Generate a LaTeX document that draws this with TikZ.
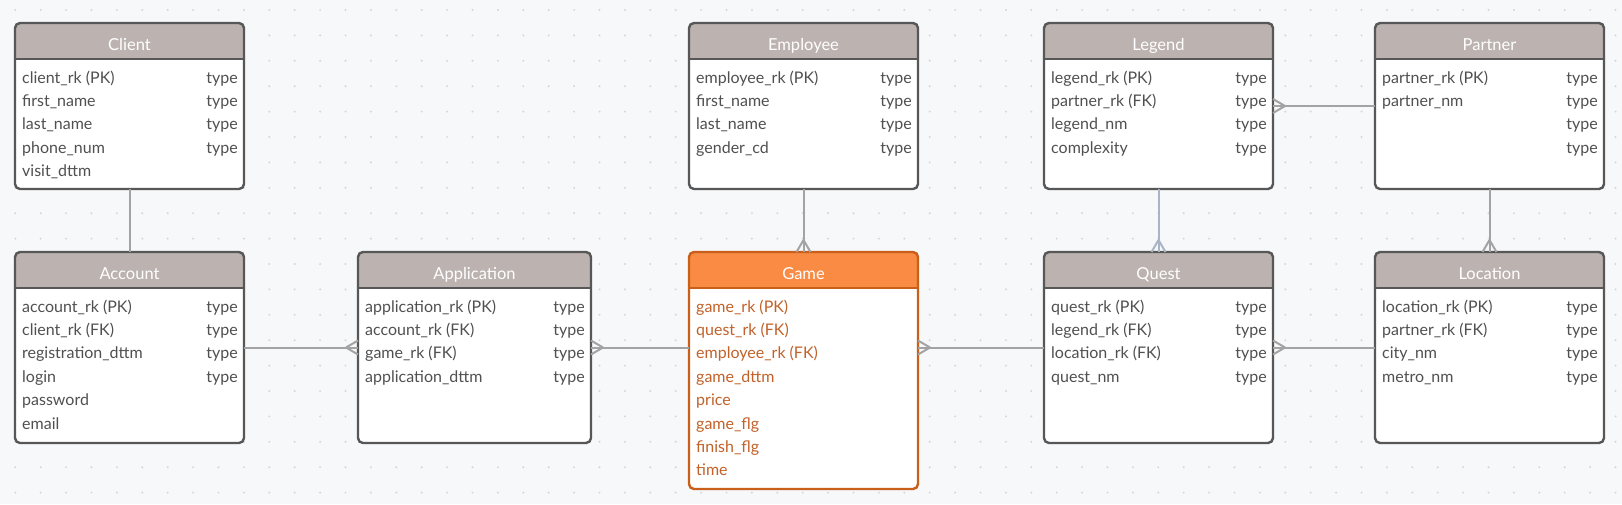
\documentclass[tikz,border=0pt]{standalone}
\usepackage{fontspec}
\setmainfont{Lato}
\usetikzlibrary{calc}
\definecolor{bgc}{HTML}{F7F8FA}
\definecolor{dotc}{HTML}{D3D6DB}
\definecolor{framec}{HTML}{575757}
\definecolor{hdrc}{HTML}{BCB2AF}
\definecolor{txtc}{HTML}{505050}
\definecolor{lnc}{HTML}{A3A3A3}
\definecolor{lnb}{HTML}{A9B4C6}
\definecolor{gframe}{HTML}{C8601C}
\definecolor{ghdr}{HTML}{F98B44}
\definecolor{gtxt}{HTML}{C2622A}
\tikzset{
  x=1pt, y=-1pt,
  ebody/.style={fill=white, inner sep=0pt, outer sep=0pt, anchor=north west},
  ttl/.style={text=white, font=\fontsize{16.5}{18}\selectfont, anchor=base, inner sep=0pt},
  fld/.style={font=\fontsize{16}{18}\selectfont, anchor=base west, inner sep=0pt},
  typ/.style={font=\fontsize{16}{18}\selectfont, anchor=base east, inner sep=0pt, text=txtc},
  conn/.style={draw=lnc, line width=2pt},
  connb/.style={draw=lnb, line width=2pt},
}
% #1 id, #2 x, #3 y, #4 w, #5 h, #6 title, #7 frame colour, #8 header colour
\newcommand\ent[8]{%
  \node[ebody, minimum width=#4pt, minimum height=#5pt] (#1) at (#2,#3) {};
  \begin{scope}
    \clip[rounded corners=5pt] (#1.north west) rectangle (#1.south east);
    \fill[#8] (#1.north west) rectangle ($(#1.north east)+(0,36)$);
  \end{scope}
  \draw[draw=#7, line width=2.4pt] ($(#1.north west)+(0,36)$) -- ($(#1.north east)+(0,36)$);
  \draw[draw=#7, line width=2.4pt, rounded corners=5pt] (#1.north west) rectangle (#1.south east);
  \node[ttl] (#1-t) at ($(#1.north)+(0,27)$) {#6};
}
% field name: #1 id, #2 row, #3 text, #4 colour
\newcommand\fn[4]{\node[fld, text=#4] (#1-f#2) at ($(#1.north west)+(7,{60+23.4*(#2-1)})$) {#3};}
% type: #1 id, #2 row
\newcommand\ft[2]{\node[typ] (#1-y#2) at ($(#1.north east)+(-6,{60+23.4*(#2-1)})$) {type};}
% horizontal crow's foot at #1, apex offset #2
\newcommand\crowh[3]{%
  \draw[#3] ($(#1)+(#2,0)$) -- ($(#1)+(0,7)$);
  \draw[#3] ($(#1)+(#2,0)$) -- ($(#1)+(0,-7)$);}
\newcommand\crowv[3]{%
  \draw[#3] ($(#1)+(0,#2)$) -- ($(#1)+(7,0)$);
  \draw[#3] ($(#1)+(0,#2)$) -- ($(#1)+(-7,0)$);}
\begin{document}
\begin{tikzpicture}
\useasboundingbox (0,0) rectangle (1622,504);
\fill[bgc] (0,0) rectangle (1622,504);
\foreach \i in {0,...,63} \foreach \j in {0,...,19}
  \fill[dotc] ({15.3+25.4*\i},{10+25.4*\j}) circle (1.1pt);

% entities
\ent{client}{15}{23}{229}{166}{Client}{framec}{hdrc}
\fn{client}{1}{client\_rk (PK)}{txtc}\ft{client}{1}
\fn{client}{2}{first\_name}{txtc}\ft{client}{2}
\fn{client}{3}{last\_name}{txtc}\ft{client}{3}
\fn{client}{4}{phone\_num}{txtc}\ft{client}{4}
\fn{client}{5}{visit\_dttm}{txtc}

\ent{employee}{689}{23}{229}{166}{Employee}{framec}{hdrc}
\fn{employee}{1}{employee\_rk (PK)}{txtc}\ft{employee}{1}
\fn{employee}{2}{first\_name}{txtc}\ft{employee}{2}
\fn{employee}{3}{last\_name}{txtc}\ft{employee}{3}
\fn{employee}{4}{gender\_cd}{txtc}\ft{employee}{4}

\ent{legend}{1044}{23}{229}{166}{Legend}{framec}{hdrc}
\fn{legend}{1}{legend\_rk (PK)}{txtc}\ft{legend}{1}
\fn{legend}{2}{partner\_rk (FK)}{txtc}\ft{legend}{2}
\fn{legend}{3}{legend\_nm}{txtc}\ft{legend}{3}
\fn{legend}{4}{complexity}{txtc}\ft{legend}{4}

\ent{partner}{1375}{23}{229}{166}{Partner}{framec}{hdrc}
\fn{partner}{1}{partner\_rk (PK)}{txtc}\ft{partner}{1}
\fn{partner}{2}{partner\_nm}{txtc}\ft{partner}{2}
\ft{partner}{3}
\ft{partner}{4}

\ent{account}{15}{252}{229}{191}{Account}{framec}{hdrc}
\fn{account}{1}{account\_rk (PK)}{txtc}\ft{account}{1}
\fn{account}{2}{client\_rk (FK)}{txtc}\ft{account}{2}
\fn{account}{3}{registration\_dttm}{txtc}\ft{account}{3}
\fn{account}{4}{login}{txtc}\ft{account}{4}
\fn{account}{5}{password}{txtc}
\fn{account}{6}{email}{txtc}

\ent{application}{358}{252}{233}{191}{Application}{framec}{hdrc}
\fn{application}{1}{application\_rk (PK)}{txtc}\ft{application}{1}
\fn{application}{2}{account\_rk (FK)}{txtc}\ft{application}{2}
\fn{application}{3}{game\_rk (FK)}{txtc}\ft{application}{3}
\fn{application}{4}{application\_dttm}{txtc}\ft{application}{4}

\ent{game}{689}{252}{229}{237}{Game}{gframe}{ghdr}
\fn{game}{1}{game\_rk (PK)}{gtxt}
\fn{game}{2}{quest\_rk (FK)}{gtxt}
\fn{game}{3}{employee\_rk (FK)}{gtxt}
\fn{game}{4}{game\_dttm}{gtxt}
\fn{game}{5}{price}{gtxt}
\fn{game}{6}{game\_flg}{gtxt}
\fn{game}{7}{finish\_flg}{gtxt}
\fn{game}{8}{time}{gtxt}

\ent{quest}{1044}{252}{229}{191}{Quest}{framec}{hdrc}
\fn{quest}{1}{quest\_rk (PK)}{txtc}\ft{quest}{1}
\fn{quest}{2}{legend\_rk (FK)}{txtc}\ft{quest}{2}
\fn{quest}{3}{location\_rk (FK)}{txtc}\ft{quest}{3}
\fn{quest}{4}{quest\_nm}{txtc}\ft{quest}{4}

\ent{location}{1375}{252}{229}{191}{Location}{framec}{hdrc}
\fn{location}{1}{location\_rk (PK)}{txtc}\ft{location}{1}
\fn{location}{2}{partner\_rk (FK)}{txtc}\ft{location}{2}
\fn{location}{3}{city\_nm}{txtc}\ft{location}{3}
\fn{location}{4}{metro\_nm}{txtc}\ft{location}{4}

% connectors
\coordinate (gw) at (game.west |- application.east);
\coordinate (ge) at (game.east |- quest.west);
\draw[conn] (client.south) -- (account.north);
\draw[conn] (employee.south) -- (game.north);
\crowv{game.north}{-12}{conn}
\draw[connb] (legend.south) -- (quest.north);
\crowv{quest.north}{-12}{connb}
\draw[conn] (partner.south) -- (location.north);
\crowv{location.north}{-12}{conn}
\draw[conn] (account.east) -- (application.west);
\crowh{application.west}{-12}{conn}
\draw[conn] (application.east) -- (gw);
\crowh{application.east}{12}{conn}
\draw[conn] (ge) -- (quest.west);
\crowh{ge}{12}{conn}
\draw[conn] (quest.east) -- (location.west);
\crowh{quest.east}{12}{conn}
\draw[conn] (legend.east) -- (partner.west);
\crowh{legend.east}{12}{conn}
\end{tikzpicture}
\end{document}
